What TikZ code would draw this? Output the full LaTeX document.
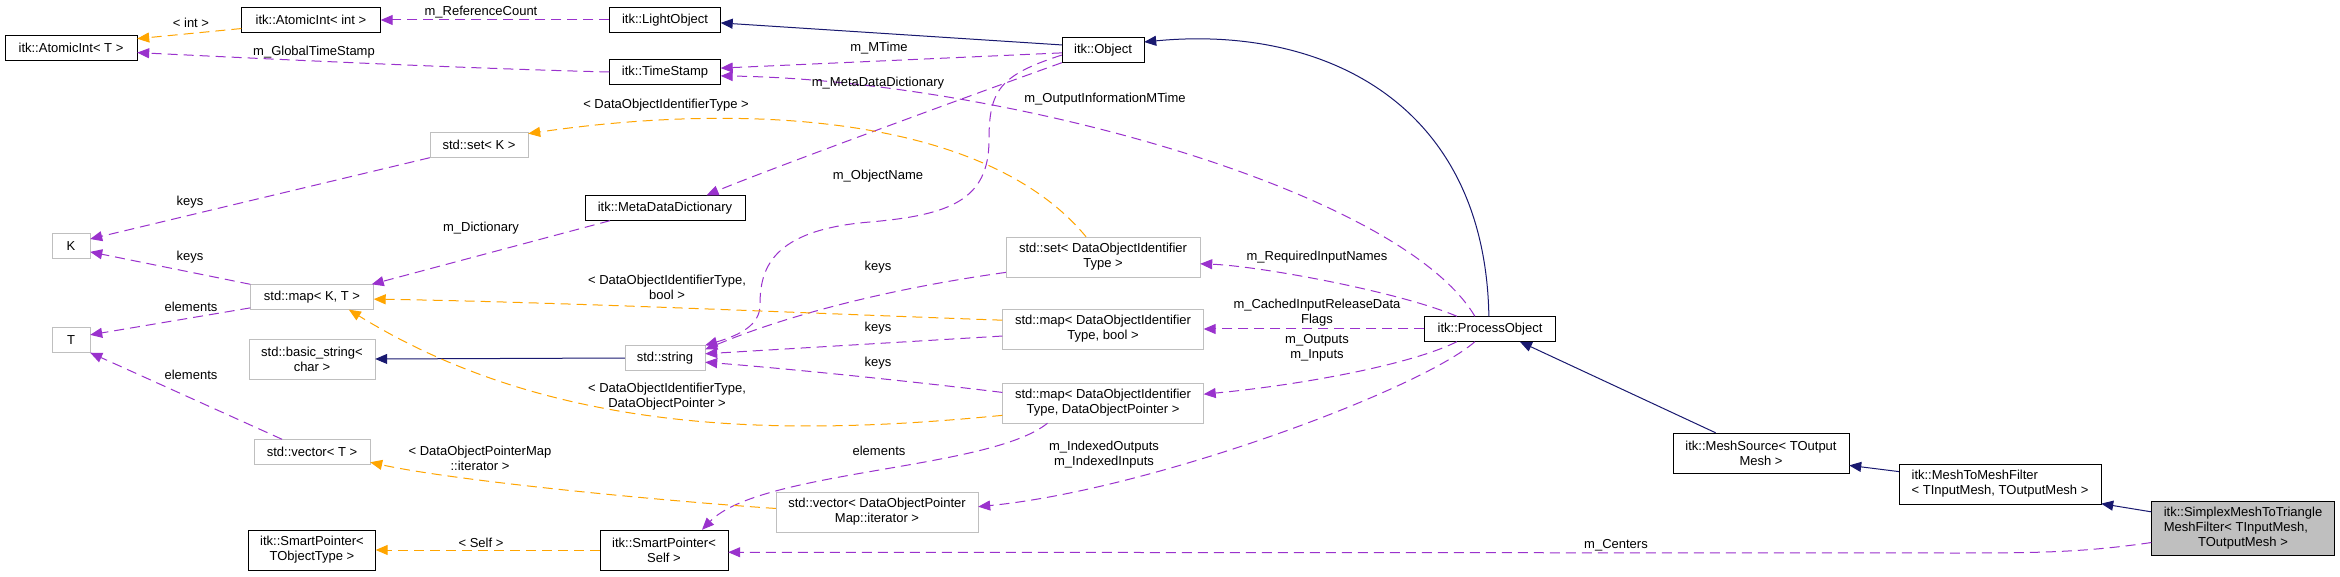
\documentclass[tikz,border=0pt]{standalone}
\usepackage{fontspec}
\setmainfont{Liberation Sans}
\usetikzlibrary{arrows.meta}
\definecolor{orchid}{RGB}{154,50,205}
\definecolor{tangerine}{RGB}{255,165,0}
\definecolor{midnight}{RGB}{25,25,112}
\definecolor{silver}{RGB}{191,191,191}
\tikzset{
  >={Triangle[length=12pt,width=10pt]},
  cls/.style={draw=black,fill=white,minimum width=#1,minimum height=25pt,inner sep=1pt,
    align=center,font=\fontsize{13}{15}\selectfont},
  cls/.default=100pt,
  ghost/.style={draw=silver},
  tall/.style={minimum height=40pt},
  member/.style={->,draw=#1,line width=1pt,dash pattern=on 10pt off 6pt},
  member/.default=orchid,
  tmpl/.style={member=tangerine},
  inherit/.style={->,draw=midnight,line width=1pt},
  lbl/.style={inner sep=0pt,align=center,font=\fontsize{13}{15}\selectfont},
}

\begin{document}
\begin{tikzpicture}[x=1pt,y=-1pt]
  \path[use as bounding box,fill=white] (0,0) rectangle (2340,577);
  % classes
  \node[cls=132pt] (aiT) at (71,48) {itk::AtomicInt< T >};
  \node[cls=139pt] (aiInt) at (311,20) {itk::AtomicInt< int >};
  \node[cls=111pt] (light) at (665,20) {itk::LightObject};
  \node[cls=111pt] (stamp) at (665,72) {itk::TimeStamp};
  \node[cls=98pt,ghost] (setK) at (479,145) {std::set< K >};
  \node[cls=160pt] (mdd) at (665,208) {itk::MetaDataDictionary};
  \node[cls=38pt,ghost] (K) at (71,246) {K};
  \node[cls=123pt,ghost] (mapKT) at (312,297) {std::map< K, T >};
  \node[cls=38pt,ghost] (T) at (71,340) {T};
  \node[cls=126pt,ghost,tall] (bstr) at (312,359) {std::basic\_string<\\char >};
  \node[cls=80pt,ghost] (str) at (665,358) {std::string};
  \node[cls=116pt,ghost] (vecT) at (312,452) {std::vector< T >};
  \node[cls=127pt,tall] (spT) at (312,550) {itk::SmartPointer<\\TObjectType >};
  \node[cls=128pt,tall] (spSelf) at (664,550) {itk::SmartPointer<\\Self >};
  \node[cls=82pt] (obj) at (1103,50) {itk::Object};
  \node[cls=194pt,ghost,tall] (setDOI) at (1103,257) {std::set< DataObjectIdentifier\\Type >};
  \node[cls=201pt,ghost,tall] (mapBool) at (1103,329) {std::map< DataObjectIdentifier\\Type, bool >};
  \node[cls=201pt,ghost,tall] (mapDOP) at (1103,403) {std::map< DataObjectIdentifier\\Type, DataObjectPointer >};
  \node[cls=202pt,ghost,tall] (vecDOP) at (877,512) {std::vector< DataObjectPointer\\Map::iterator >};
  \node[cls=131pt] (proc) at (1490,329) {itk::ProcessObject};
  \node[cls=176pt,tall] (meshSrc) at (1761,453) {itk::MeshSource< TOutput\\Mesh >};
  \node[cls=202pt,tall,align=left] (m2m) at (2000,484) {itk::MeshToMeshFilter\\< TInputMesh, TOutputMesh >};
  \node[cls=183pt,minimum height=54pt,fill=silver] (simplex) at (2243,528)
    {\begin{tabular}{@{}l@{}}itk::SimplexMeshToTriangle\\MeshFilter< TInputMesh,\\\multicolumn{1}{@{}c@{}}{TOutputMesh >}\end{tabular}};

  % inheritance
  \draw[inherit] (obj.173) -- (light.-3);
  \draw[inherit] (str.west) -- (bstr.east);
  \draw[inherit] (proc.95) .. controls (1485,100) and (1320,25) .. (obj.11);
  \draw[inherit] (meshSrc.156) -- (proc.-23);
  \draw[inherit] (m2m.173) -- (meshSrc.-8);
  \draw[inherit] (simplex.170) -- (m2m.-11);

  % members
  \draw[member] (light) -- (aiInt);
  \draw[member] (stamp.west) .. controls (450,68) and (250,58) .. (aiT.-4);
  \draw[member] (obj.184) -- (stamp.4);
  \draw[member] (proc.140) .. controls (1400,190) and (1000,80) .. (stamp.-4);
  \draw[member] (obj.south west) .. controls (980,92) and (764,171) .. (mdd.17);
  \draw[member] (obj.187) .. controls (1000,75) and (989,90) .. (989,140)
    .. controls (989,200) and (950,215) .. (870,222)
    .. controls (770,230) and (760,270) .. (760,305)
    .. controls (760,325) and (740,335) .. (str.north east);
  \draw[member] (mdd.193) -- (mapKT.12);
  \draw[member] (setK.south west) -- (K.20);
  \draw[member] (mapKT.north west) -- (K.-17);
  \draw[member] (mapKT.190) -- (T.15);
  \draw[member] (vecT.157) -- (T.south east);
  \draw[member] (setDOI.189) .. controls (880,290) and (780,318) .. (str.12);
  \draw[member] (mapBool.184) -- (str.6);
  \draw[member] (mapDOP.174) .. controls (900,380) and (780,368) .. (str.-6);
  \draw[member] (proc.159) .. controls (1400,292) and (1260,266) .. (setDOI.-4);
  \draw[member] (proc.west) -- (mapBool.east);
  \draw[member] (proc.201) .. controls (1410,365) and (1300,385) .. (mapDOP.5);
  \draw[member] (proc.220) .. controls (1420,390) and (1150,490) .. (vecDOP.3);
  \draw[member] (mapDOP.200) .. controls (990,470) and (760,470) .. (spSelf.28);
  \draw[member] (simplex.189) .. controls (2080,553) and (2030,553) .. (1950,553) -- (spSelf.-2);

  % template arguments
  \draw[tmpl] (aiInt.187) -- (aiT.8);
  \draw[tmpl] (setDOI.130) .. controls (990,120) and (760,100) .. (setK.13);
  \draw[tmpl] (mapBool.175) .. controls (800,313) and (560,302) .. (mapKT.-2);
  \draw[tmpl] (mapDOP.187) .. controls (800,435) and (560,440) .. (mapKT.-19);
  \draw[tmpl] (vecDOP.178) .. controls (650,500) and (450,480) .. (vecT.-10);
  \draw[tmpl] (spSelf.west) -- (spT.east);

  % edge labels
  \node[lbl] (lRef) at (481,12) {m\_ReferenceCount};
  \node[lbl] (lInt) at (191,23) {< int >};
  \node[lbl] (lGlobal) at (314,52) {m\_GlobalTimeStamp};
  \node[lbl] (lMTime) at (879,48) {m\_MTime};
  \node[lbl] (lMeta) at (878,83) {m\_MetaDataDictionary};
  \node[lbl] (lOutInfo) at (1105,99) {m\_OutputInformationMTime};
  \node[lbl] (lDOIT) at (666,105) {< DataObjectIdentifierType >};
  \node[lbl] (lName) at (878,176) {m\_ObjectName};
  \node[lbl] (lKeys1) at (190,202) {keys};
  \node[lbl] (lDict) at (481,228) {m\_Dictionary};
  \node[lbl] (lKeys2) at (190,257) {keys};
  \node[lbl] (lRequired) at (1317,257) {m\_RequiredInputNames};
  \node[lbl] (lKeys3) at (878,267) {keys};
  \node[lbl] (lBool) at (667,287) {< DataObjectIdentifierType,\\bool >};
  \node[lbl] (lElem1) at (191,307) {elements};
  \node[lbl] (lCached) at (1317,313) {m\_CachedInputReleaseData\\Flags};
  \node[lbl] (lKeys4) at (878,328) {keys};
  \node[lbl] (lInOut) at (1317,348) {m\_Outputs\\m\_Inputs};
  \node[lbl] (lKeys5) at (878,363) {keys};
  \node[lbl] (lElem2) at (191,375) {elements};
  \node[lbl] (lDOP) at (667,397) {< DataObjectIdentifierType,\\DataObjectPointer >};
  \node[lbl] (lElem3) at (879,451) {elements};
  \node[lbl] (lIndexed) at (1104,455) {m\_IndexedOutputs\\m\_IndexedInputs};
  \node[lbl] (lIter) at (480,458) {< DataObjectPointerMap\\::iterator >};
  \node[lbl] (lSelf) at (481,543) {< Self >};
  \node[lbl] (lCenters) at (1616,545) {m\_Centers};
\end{tikzpicture}
\end{document}
